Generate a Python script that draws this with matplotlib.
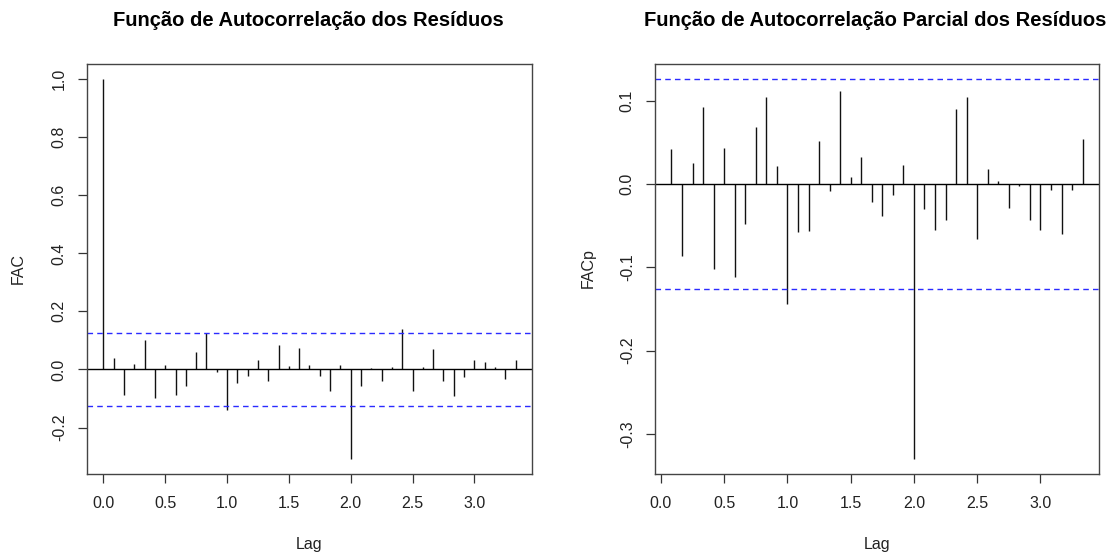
import numpy as np
import matplotlib
matplotlib.use("Agg")
import matplotlib.pyplot as plt

plt.rcParams['font.family'] = ['Liberation Sans', 'DejaVu Sans']

# Dados (série mensal, lag em anos = k/12)
acf_vals = [1.0, 0.041, -0.089, 0.020, 0.101, -0.098, 0.016, -0.087, -0.056, 0.060,
            0.124, -0.008, -0.140, -0.048, -0.021, 0.034, -0.041, 0.085, 0.011, 0.074,
            0.015, -0.021, -0.074, 0.015, -0.308, -0.056, 0.005, -0.038, 0.008, 0.141,
            -0.074, 0.008, 0.069, -0.038, -0.091, -0.026, 0.033, 0.026, 0.008, -0.034,
            0.033]
pacf_vals = [0.042, -0.086, 0.025, 0.092, -0.102, 0.043, -0.112, -0.048, 0.068, 0.104,
             0.022, -0.144, -0.058, -0.056, 0.052, -0.008, 0.112, 0.008, 0.032, -0.022,
             -0.039, -0.013, 0.023, -0.330, -0.030, -0.055, -0.043, 0.090, 0.104, -0.066,
             0.018, 0.003, -0.029, -0.003, -0.043, -0.055, -0.007, -0.060, -0.007, 0.054]
ci_acf = 0.125
ci_pacf = 0.1256
freq = 12

acf_lags = np.arange(len(acf_vals)) / freq
pacf_lags = np.arange(1, len(pacf_vals) + 1) / freq

W, H = 1111, 557
fig = plt.figure(figsize=(W / 100, H / 100), dpi=100)


def panel(rect, lags, vals, ci, ylabel, title, yticks, ylim, xlim, title_x, ylab_x):
    ax = fig.add_axes([rect[0] / W, 1 - rect[3] / H, (rect[2] - rect[0]) / W,
                       (rect[3] - rect[1]) / H])
    ax.vlines(lags, 0, vals, color='#111111', lw=1)
    ax.axhline(0, color='black', lw=1)
    for c in (ci, -ci):
        ax.axhline(c, color='#2b2bff', lw=1, ls=(0, (4, 3)))
    ax.set_xlim(*xlim)
    ax.set_ylim(*ylim)
    ax.set_xticks([0, 0.5, 1.0, 1.5, 2.0, 2.5, 3.0])
    ax.set_xticklabels(['0.0', '0.5', '1.0', '1.5', '2.0', '2.5', '3.0'])
    ax.set_yticks(yticks)
    ax.set_yticklabels([f'{v:.1f}' for v in yticks], rotation=90, va='center')
    ax.tick_params(direction='out', length=6.5, width=0.9, color='#333333',
                   labelsize=11.5, labelcolor='#222222', pad=9)
    ax.tick_params(axis='y', pad=8)
    for s in ax.spines.values():
        s.set_color('#444444')
        s.set_linewidth(1)
    fig.text(title_x / W, 1 - 20 / H, title, ha='center', va='center',
             fontsize=14.5, fontweight='bold')
    fig.text(ylab_x / W, 1 - 268 / H, ylabel, rotation=90, ha='center',
             va='center', fontsize=11.5, color='#222222')
    fig.text((rect[0] + rect[2]) / 2 / W, 1 - 545 / H, 'Lag', ha='center',
             va='center', fontsize=11.5, color='#222222')
    return ax


panel((87, 64, 532, 474), acf_lags, acf_vals, ci_acf, 'FAC',
      'Função de Autocorrelação dos Resíduos',
      [-0.2, 0.0, 0.2, 0.4, 0.6, 0.8, 1.0], (-0.360, 1.052), (-0.1333, 3.4667), 308, 18)
panel((655, 64, 1099, 474), pacf_lags, pacf_vals, ci_pacf, 'FACp',
      'Função de Autocorrelação Parcial dos Resíduos',
      [-0.3, -0.2, -0.1, 0.0, 0.1], (-0.348, 0.1438), (-0.047, 3.463), 875, 588)

fig.savefig('out.png', dpi=100)
